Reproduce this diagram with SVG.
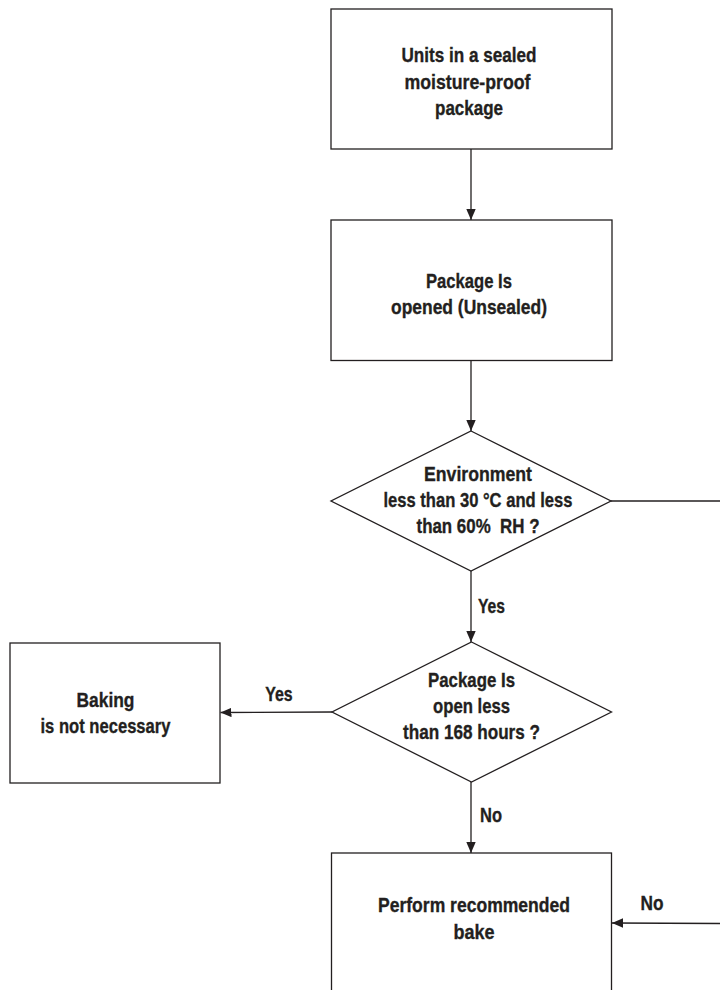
<svg xmlns="http://www.w3.org/2000/svg" width="720" height="990" viewBox="0 0 720 990">
<style>
.shape{fill:#ffffff;stroke:#231f20;stroke-width:1.3}
.conn{fill:none;stroke:#231f20;stroke-width:1.3}
text{font-family:"Liberation Sans",Arial,sans-serif;font-weight:bold;font-size:21px;fill:#231f20;stroke:#231f20;stroke-width:0.35;text-anchor:middle;white-space:pre}
</style>
<defs>
<marker id="arr" markerUnits="userSpaceOnUse" markerWidth="12" markerHeight="10" refX="11" refY="4.7" orient="auto">
<path d="M0,0 L11,4.7 L0,9.4 z" fill="#231f20"/>
</marker>
</defs>
<rect width="720" height="990" fill="#ffffff"/>
<g id="connectors">
<line class="conn" x1="471" y1="149" x2="471" y2="220" marker-end="url(#arr)"/>
<line class="conn" x1="471" y1="360.5" x2="471" y2="431" marker-end="url(#arr)"/>
<line class="conn" x1="471" y1="571" x2="471" y2="642" marker-end="url(#arr)"/>
<line class="conn" x1="332" y1="712" x2="220.5" y2="712.5" marker-end="url(#arr)"/>
<line class="conn" x1="471" y1="782" x2="471" y2="853" marker-end="url(#arr)"/>
<line class="conn" x1="611" y1="501" x2="720" y2="501"/>
<line class="conn" x1="720" y1="923.5" x2="612" y2="923" marker-end="url(#arr)"/>
<text x="491.5" y="613" textLength="27" lengthAdjust="spacingAndGlyphs">Yes</text>
<text x="279" y="701" textLength="27.5" lengthAdjust="spacingAndGlyphs">Yes</text>
<text x="491" y="822" textLength="22" lengthAdjust="spacingAndGlyphs">No</text>
<text x="652" y="910" textLength="23" lengthAdjust="spacingAndGlyphs">No</text>
</g>
<g id="node-sealed">
<rect class="shape" x="331" y="9" width="281" height="140"/>
<text x="469" y="62" textLength="135" lengthAdjust="spacingAndGlyphs">Units in a sealed</text>
<text x="467.5" y="89" textLength="126" lengthAdjust="spacingAndGlyphs">moisture-proof</text>
<text x="469" y="115" textLength="68" lengthAdjust="spacingAndGlyphs">package</text>
</g>
<g id="node-opened">
<rect class="shape" x="331" y="220" width="281" height="140.5"/>
<text x="469" y="288" textLength="86" lengthAdjust="spacingAndGlyphs">Package Is</text>
<text x="469" y="314" textLength="156" lengthAdjust="spacingAndGlyphs">opened (Unsealed)</text>
</g>
<g id="node-environment">
<polygon class="shape" points="471,431 611,501 471,571 331,501"/>
<text x="478" y="481" textLength="108" lengthAdjust="spacingAndGlyphs">Environment</text>
<text x="478" y="507" textLength="189" lengthAdjust="spacingAndGlyphs">less than 30 °C and less</text>
<text x="478" y="533" textLength="123" lengthAdjust="spacingAndGlyphs" xml:space="preserve">than 60%  RH ?</text>
</g>
<g id="node-open-hours">
<polygon class="shape" points="471.5,642 611.5,712 471.5,782 332,712"/>
<text x="471.5" y="687" textLength="87" lengthAdjust="spacingAndGlyphs">Package Is</text>
<text x="471.5" y="713" textLength="77" lengthAdjust="spacingAndGlyphs">open less</text>
<text x="471.5" y="739" textLength="137" lengthAdjust="spacingAndGlyphs">than 168 hours ?</text>
</g>
<g id="node-no-bake">
<rect class="shape" x="10" y="643" width="210" height="140"/>
<text x="105.5" y="707" textLength="58" lengthAdjust="spacingAndGlyphs">Baking</text>
<text x="105.5" y="733" textLength="130" lengthAdjust="spacingAndGlyphs">is not necessary</text>
</g>
<g id="node-bake">
<rect class="shape" x="331.5" y="853" width="280" height="150"/>
<text x="474" y="912" textLength="192" lengthAdjust="spacingAndGlyphs">Perform recommended</text>
<text x="474" y="939" textLength="41" lengthAdjust="spacingAndGlyphs">bake</text>
</g>
</svg>
